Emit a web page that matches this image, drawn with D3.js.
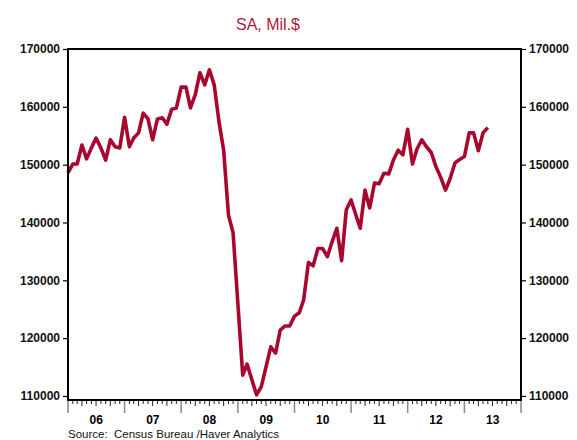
<!DOCTYPE html>
<html>
<head>
<meta charset="utf-8">
<script src="https://cdn.jsdelivr.net/npm/d3@7"></script>
<style>
  body { margin: 0; background: #fff; }
  svg { display: block; font-family: 'Liberation Sans', Arial, sans-serif; }
</style>
</head>
<body>
<script>
const w = 577;
const h = 440;
const margin = { top: 49, right: 56, bottom: 40, left: 68 };
const lineColor = '#a8072e';

// monthly, seasonally adjusted, Mil.$ -- Jan 2006 onwards
const startMonth = new Date(2006, 0, 1);
const values = [
  148600, 150100, 150100, 153400, 151000, 152900, 154600, 152900, 150800, 154300, 153100, 152900,
  158200, 153100, 154600, 155500, 158900, 157900, 154300, 157900, 158100, 157000, 159600, 159800,
  163400, 163400, 159800, 162100, 165900, 163800, 166400, 163800, 157400, 152500, 141300, 138200,
  125900, 113600, 115500, 112800, 110200, 111600, 115000, 118500, 117400, 121400, 122100, 122100,
  123800, 124400, 126600, 133100, 132500, 135500, 135500, 134100, 136700, 139000, 133400, 142200,
  143900, 141300, 139000, 145600, 142500, 146800, 146700, 148500, 148400, 150800, 152500, 151700,
  156100, 150100, 152700, 154300, 153100, 152100, 149700, 147800, 145600, 147600, 150300, 150900,
  151400, 155500, 155500, 152400, 155500, 156400,
];
const yTicks = [110000, 120000, 130000, 140000, 150000, 160000, 170000];
const yearLabels = ['06', '07', '08', '09', '10', '11', '12', '13'];
const yearStarts = [2006, 2007, 2008, 2009, 2010, 2011, 2012, 2013];

const data = values.map((v, i) => ({
  date: d3.timeMonth.offset(startMonth, i),
  value: v,
}));

const svg = d3
  .select('body')
  .append('svg')
  .attr('width', w)
  .attr('height', h);

const xScale = d3
  .scaleTime()
  .domain([new Date(2006, 0, 1), new Date(2014, 0, 1)])
  .range([margin.left, w - margin.right]);

const yScale = d3
  .scaleLinear()
  .domain([109300, 170000])
  .range([h - margin.bottom, margin.top]);

// title
svg
  .append('text')
  .attr('x', 268)
  .attr('y', 30)
  .attr('text-anchor', 'middle')
  .attr('fill', '#b0173f')
  .style('font-size', '16px')
  .text('SA, Mil.$');

// x axis: monthly, quarterly and yearly ticks
const xAxisG = svg
  .append('g')
  .attr('transform', `translate(0,${h - margin.bottom})`);

const months = d3.timeMonth.range(new Date(2006, 0, 1), new Date(2014, 0, 2));
xAxisG
  .selectAll('line.month')
  .data(months)
  .enter()
  .append('line')
  .attr('x1', (d) => xScale(d))
  .attr('x2', (d) => xScale(d))
  .attr('y1', 1)
  .attr('y2', (d) => (d.getMonth() === 0 ? 13 : d.getMonth() % 3 === 0 ? 6 : 4))
  .attr('stroke', (d) => (d.getMonth() === 0 ? '#8a8a8a' : '#222'))
  .attr('stroke-width', (d) => (d.getMonth() === 0 ? 1.5 : 1));

xAxisG
  .selectAll('text.year')
  .data(yearStarts)
  .enter()
  .append('text')
  .attr('x', (d) => (xScale(new Date(d, 0, 1)) + xScale(new Date(d + 1, 0, 1))) / 2)
  .attr('y', 23.5)
  .attr('text-anchor', 'middle')
  .style('font-size', '12px')
  .style('font-weight', 'bold')
  .text((d, i) => yearLabels[i]);

// y axes, left and right
const yAxisLeft = d3.axisLeft(yScale).tickValues(yTicks).tickSize(5).tickFormat(d3.format('d'));
const yAxisRight = d3.axisRight(yScale).tickValues(yTicks).tickSize(5).tickFormat(d3.format('d'));

[
  svg.append('g').attr('transform', `translate(${margin.left},0)`).call(yAxisLeft),
  svg.append('g').attr('transform', `translate(${w - margin.right},0)`).call(yAxisRight),
].forEach((g) => {
  g.select('.domain').remove();
  g.selectAll('.tick line').attr('stroke', '#000').attr('stroke-width', 1.2);
  g.selectAll('.tick text')
    .attr('fill', '#111')
    .style('font-size', '12px')
    .style('font-weight', 'bold')
    .style('font-family', "'Liberation Sans', Arial, sans-serif");
});

// series line
const line = d3
  .line()
  .x((d) => xScale(d.date))
  .y((d) => yScale(d.value));

svg
  .append('path')
  .datum(data)
  .attr('fill', 'none')
  .attr('stroke', lineColor)
  .attr('stroke-width', 3.6)
  .attr('stroke-linejoin', 'round')
  .attr('d', line);

// frame
svg
  .append('rect')
  .attr('x', margin.left)
  .attr('y', margin.top)
  .attr('width', w - margin.left - margin.right)
  .attr('height', h - margin.top - margin.bottom)
  .attr('fill', 'none')
  .attr('stroke', '#000')
  .attr('stroke-width', 2);

svg
  .append('text')
  .attr('x', margin.left)
  .attr('y', 437.5)
  .style('font-size', '11.5px')
  .style('white-space', 'pre')
  .attr('fill', '#111')
  .text('Source:  Census Bureau /Haver Analytics');
</script>
</body>
</html>
